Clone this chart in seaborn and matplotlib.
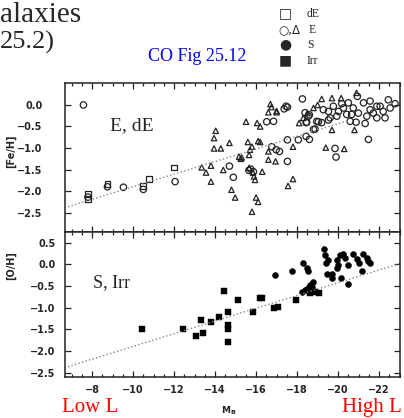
import seaborn as sns
import numpy as np
import matplotlib.pyplot as plt
from matplotlib.ticker import MultipleLocator

# top panel: dE (open squares), E (open circles + triangles)
dE_M = [-7.8, -7.8, -8.75, -10.47, -10.78, -12.0]
dE_FeH = [-2.07, -2.18, -1.84, -1.88, -1.72, -1.45]

Ec_M = [-7.58, -7.8, -8.75, -9.53, -10.5, -12.05, -14.7, -14.89, -15.65, -15.74,
        -15.87, -16.52, -16.77, -16.98, -17.14, -17.53, -17.53, -17.53, -18.06, -18.44,
        -18.6, -18.88, -18.39, -18.6, -18.44, -19.04, -19.2, -19.53, -19.85, -19.9,
        -21.48, -18.26, -20.94, -22.45, -22.78, -17.46, -17.37, -18.55, -16.85, -18.47,
        -18.96, -18.8, -19.61, -19.28, -19.53, -19.77, -20.02, -20.26, -20.42, -19.94,
        -20.18, -20.5, -20.59, -20.88, -21.32, -21.4, -21.56, -21.89, -22.29, -22.05,
        -21.24, -21.56, -20.74, -20.99, -20.66, -21.72, -21.89, -22.2, -22.54]
Ec_FeH = [0.0, -2.14, -1.9, -1.91, -1.96, -1.78, -1.42, -1.68, -1.52, -1.49,
          -1.55, -0.39, -0.97, -1.04, -1.08, -0.05, -0.81, -1.31, -0.81, -0.73,
          -0.80, -0.56, -0.18, -0.23, -0.41, -0.39, -0.41, -0.35, -1.01, -1.21,
          -0.80, 0.14, 0.20, 0.12, 0.03, -0.03, -0.09, -0.26, -0.38, -0.40,
          -0.38, -0.57, -0.30, -0.11, -0.15, -0.03, -0.15, -0.07, -0.22, -0.26,
          0.03, 0.05, -0.38, -0.40, -0.43, -0.26, -0.11, -0.30, -0.30, -0.03,
          0.05, 0.09, -0.07, -0.19, -0.22, -0.19, -0.03, -0.15, -0.07]

Et_M = [-13.35, -13.56, -13.8, -13.8, -13.95, -14.03, -13.95, -14.28, -14.4, -14.7,
        -14.8, -14.98, -15.17, -15.25, -15.3, -15.51, -15.6, -15.66, -15.7, -15.66,
        -15.8, -15.85, -15.9, -15.95, -15.8, -16.0, -16.1, -16.1, -16.05, -16.2,
        -16.2, -16.3, -16.6, -16.6, -16.6, -16.7, -16.75, -17.0, -16.95, -17.56,
        -17.8, -17.8, -18.1, -18.3, -18.5, -19.4, -19.7, -20.3, -20.8, -19.0,
        -19.7, -19.2, -20.15, -20.9, -18.8, -17.0]
Et_FeH = [-1.45, -1.57, -1.41, -1.78, -0.77, -0.60, -1.01, -1.01, -1.51, -0.88,
          -1.97, -2.15, -1.20, -1.25, -1.22, -0.39, -0.86, -1.46, -1.04, -1.16,
          -0.97, -1.57, -1.66, -1.74, -2.48, -2.15, -2.25, -0.84, -0.42, -0.86,
          -0.50, -1.55, -1.08, -1.27, -0.17, 0.02, -0.05, -0.17, -1.31, -1.88,
          -1.72, -0.97, -0.42, -0.30, -0.19, -0.99, -0.58, -1.02, -0.58, 0.0,
          0.16, 0.14, 0.16, 0.28, -0.07, -0.14]

# bottom panel: S (filled circles), Irr (filled squares)
S_M = [-16.93, -17.74, -18.3, -18.47, -18.55, -18.76, -18.63, -18.22, -18.39, -18.55,
       -18.71, -19.32, -19.37, -19.42, -19.5, -19.7, -19.7, -19.95, -20.0, -19.95,
       -20.1, -20.13, -20.35, -20.5, -20.5, -20.74, -20.9, -21.03, -21.15, -21.23,
       -21.4, -21.48, -21.56, -20.26, -19.45]
S_OH = [-0.24, -0.15, 0.03, -0.09, -0.15, -0.41, -0.48, -0.63, -0.59, -0.55,
        -0.52, 0.36, 0.22, 0.03, 0.10, -0.21, -0.32, 0.10, -0.01, -0.09,
        0.22, -0.31, 0.14, -0.01, -0.46, 0.25, 0.13, 0.03, -0.14, 0.25,
        0.14, 0.07, 0.03, 0.24, -0.21]

Irr_M = [-10.42, -12.45, -13.07, -13.4, -13.3, -13.82, -14.19, -14.44, -14.65, -14.65,
         -14.65, -14.65, -15.14, -15.84, -16.17, -16.28, -16.85, -17.05, -17.95, -18.63,
         -18.88, -19.09]
Irr_OH = [-1.50, -1.50, -1.65, -1.59, -1.28, -1.32, -1.21, -0.61, -1.09, -1.40,
          -1.50, -1.78, -0.82, -1.09, -0.78, -0.77, -1.00, -0.99, -0.82, -0.67,
          -0.64, -0.67]

# dotted fit line end points
fit_M_top = [-6.7, -20.45]
fit_FeH = [-2.38, -0.37]
fit_M_bot = [-6.7, -23.0]
fit_OH = [-2.38, 0.02]

sns.set_style("ticks")
plt.rcParams['font.family'] = ['DejaVu Sans']

W, H = 404, 418
fig = plt.figure(figsize=(W / 100, H / 100), dpi=100)
ax1 = fig.add_axes([65 / W, 1 - 232 / H, 335 / W, 149 / H])
ax2 = fig.add_axes([65 / W, 1 - 377 / H, 335 / W, 145 / H])

ink = '#222222'
sns.scatterplot(x=dE_M, y=dE_FeH, marker='s', s=17, facecolor='none',
                edgecolor=ink, linewidth=0.9, ax=ax1)
sns.scatterplot(x=Ec_M, y=Ec_FeH, marker='o', s=21, facecolor='none',
                edgecolor=ink, linewidth=0.9, ax=ax1)
sns.scatterplot(x=Et_M, y=Et_FeH, marker='^', s=15, facecolor='none',
                edgecolor=ink, linewidth=0.9, ax=ax1)
sns.lineplot(x=fit_M_top, y=fit_FeH, color='#888888', linestyle=':', linewidth=1.0, ax=ax1)

sns.scatterplot(x=S_M, y=S_OH, marker='o', s=19, color='black',
                edgecolor='black', linewidth=0.3, ax=ax2)
sns.scatterplot(x=Irr_M, y=Irr_OH, marker='s', s=19, color='black',
                edgecolor='black', linewidth=0.3, ax=ax2)
sns.lineplot(x=fit_M_bot, y=fit_OH, color='#888888', linestyle=':', linewidth=1.0, ax=ax2)

for ax in (ax1, ax2):
    ax.set_xlim(-6.68, -23.02)
    ax.xaxis.set_major_locator(MultipleLocator(2))
    ax.xaxis.set_minor_locator(MultipleLocator(0.5))
    ax.tick_params(which='both', direction='in', top=True, right=True, width=0.9, color=ink)
    ax.tick_params(which='major', length=4)
    ax.tick_params(which='minor', length=2)
    for sp in ax.spines.values():
        sp.set_linewidth(1.1)
        sp.set_color(ink)
    ax.set_xlabel('')
    ax.set_ylabel('')

ax1.set_ylim(-2.95, 0.51)
ax1.set_yticks([0.0, -0.5, -1.0, -1.5, -2.0, -2.5])
ax1.tick_params(axis='x', labelbottom=False)
ax1.tick_params(axis='y', pad=16, labelsize=7)
for t in ax1.get_yticklabels():
    t.set_fontweight('bold')

ax2.set_ylim(-2.60, 0.75)
ax2.set_yticks([0.5, 0.0, -0.5, -1.0, -1.5, -2.0, -2.5])
ax2.tick_params(axis='y', pad=7, labelsize=7)
ax2.tick_params(axis='x', pad=6, labelsize=7)
for t in ax2.get_yticklabels() + ax2.get_xticklabels():
    t.set_fontweight('bold')

def ftext(x, y, s, **kw):
    fig.text(x / W, 1 - y / H, s, **kw)

serif = ['Liberation Serif', 'DejaVu Serif']
ftext(11, 151, '[Fe/H]', rotation=90, ha='center', va='center', fontsize=7, fontweight='bold')
ftext(11, 266, '[O/H]', rotation=90, ha='center', va='center', fontsize=7, fontweight='bold')
ftext(229, 411, r'M$_\mathregular{B}$', ha='center', va='center', fontsize=6.5, fontweight='bold')

ftext(110, 130, 'E, dE', family=serif, fontsize=14, va='baseline')
ftext(93, 287, 'S, Irr', family=serif, fontsize=13, va='baseline')
ftext(62, 412, 'Low L', family=serif, fontsize=15, color='red', va='baseline')
ftext(342, 412, 'High L', family=serif, fontsize=15, color='red', va='baseline')

# slide title fragments
ftext(0, 22, 'alaxies', family=serif, fontsize=21, va='baseline')
ftext(0, 49, '25.2)', family=serif, fontsize=19, va='baseline')
ftext(148, 61, 'CO Fig 25.12', family=serif, fontsize=13, color='blue', va='baseline')

sym = ['DejaVu Sans']
ftext(279, 17, '\u25a1', family=sym, fontsize=10, va='baseline')
ftext(307, 17, 'dE', family=serif, fontsize=8.5, va='baseline')
ftext(278, 33, '\u25cb,\u0394', family=sym, fontsize=8.5, va='baseline')
ftext(309, 33, 'E', family=serif, fontsize=8.5, va='baseline')
ftext(279, 48, '\u25cf', family=sym, fontsize=10, va='baseline')
ftext(307, 48, 'S', family=serif, fontsize=8.5, va='baseline')
ftext(279, 64, '\u25a0', family=sym, fontsize=10, va='baseline')
ftext(307, 64, 'Irr', family=serif, fontsize=8.5, va='baseline')

fig.savefig('out.png', dpi=100)
